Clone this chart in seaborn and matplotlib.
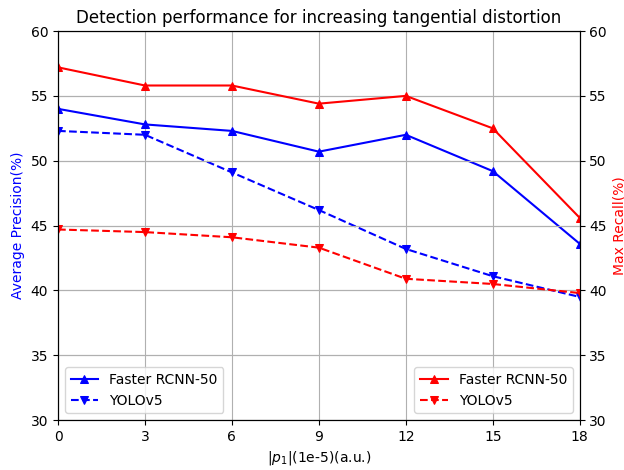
import matplotlib
matplotlib.use("Agg")
import matplotlib.pyplot as plt
import seaborn as sns

# distortion levels |p1| (1e-5)
distortion = [0, 3, 6, 9, 12, 15, 18]

# Average precision (%)
ap_frcnn = [54.0, 52.8, 52.3, 50.7, 52.0, 49.2, 43.6]
ap_yolo = [52.3, 52.0, 49.1, 46.2, 43.2, 41.1, 39.5]

# Max recall (%)
mr_frcnn = [57.2, 55.8, 55.8, 54.4, 55.0, 52.5, 45.6]
mr_yolo = [44.7, 44.5, 44.1, 43.3, 40.9, 40.5, 39.8]

fig, ax1 = plt.subplots(figsize=(6.24, 4.7), dpi=100)
ax2 = ax1.twinx()

sns.lineplot(x=distortion, y=ap_frcnn, ax=ax1, color='blue', marker='^',
             markeredgecolor='blue', linestyle='-', label='Faster RCNN-50')
sns.lineplot(x=distortion, y=ap_yolo, ax=ax1, color='blue', marker='v',
             markeredgecolor='blue', linestyle='--', label='YOLOv5')
sns.lineplot(x=distortion, y=mr_frcnn, ax=ax2, color='red', marker='^',
             markeredgecolor='red', linestyle='-', label='Faster RCNN-50')
sns.lineplot(x=distortion, y=mr_yolo, ax=ax2, color='red', marker='v',
             markeredgecolor='red', linestyle='--', label='YOLOv5')

for ax in (ax1, ax2):
    ax.set_ylim(30, 60)
    ax.set_xlim(0, 18)
    ax.set_xticks(distortion)

ax1.grid(True)
ax2.grid(True)

ax1.set_xlabel('$|p_1|$(1e-5)(a.u.)')
ax1.set_ylabel('Average Precision(%)', color='blue')
ax2.set_ylabel('Max Recall(%)', color='red')
ax1.set_title('Detection performance for increasing tangential distortion')

ax1.legend(loc='lower left')
ax2.legend(loc='lower right')

fig.subplots_adjust(left=0.093, right=0.929, top=0.934, bottom=0.106)
fig.savefig('out.png', dpi=100)
